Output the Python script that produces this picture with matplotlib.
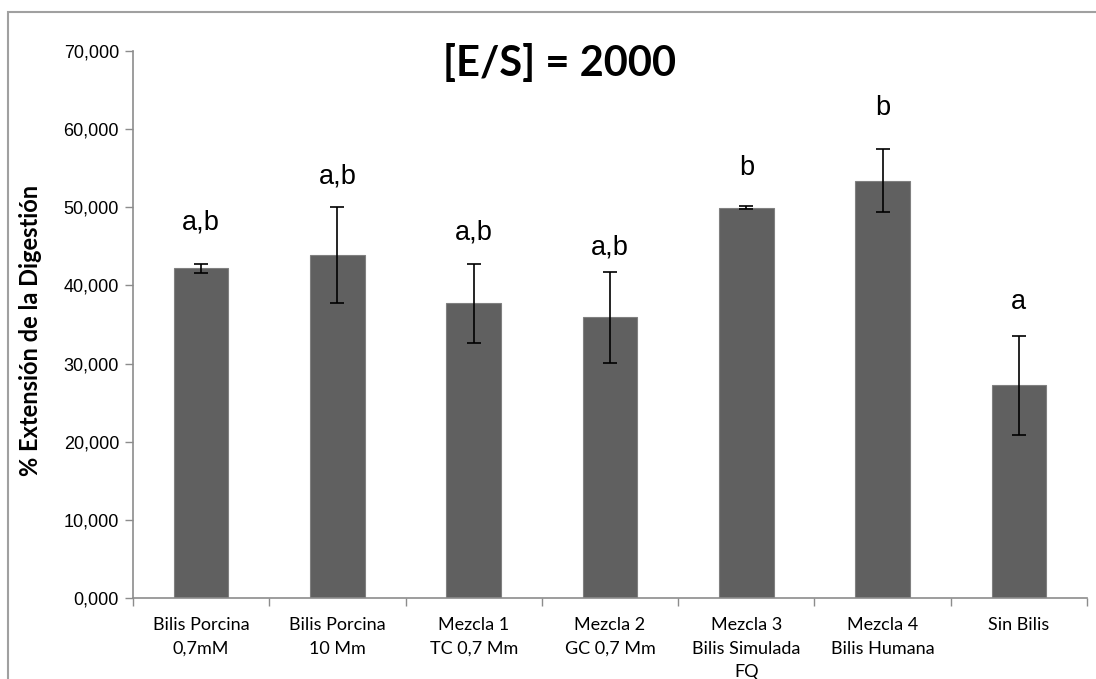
import numpy as np
import matplotlib
matplotlib.use("Agg")
import matplotlib.pyplot as plt
from matplotlib.patches import Rectangle
from matplotlib.ticker import FuncFormatter

# data
categories = ["Bilis Porcina\n0,7mM", "Bilis Porcina\n10 Mm", "Mezcla 1\nTC 0,7 Mm",
              "Mezcla 2\nGC 0,7 Mm", "Mezcla 3\nBilis Simulada\nFQ", "Mezcla 4\nBilis Humana",
              "Sin Bilis"]
means = [42.2, 43.9, 37.7, 35.9, 49.95, 53.4, 27.2]
errors = [0.55, 6.2, 5.05, 5.85, 0.2, 4.0, 6.3]
letters = ["a,b", "a,b", "a,b", "a,b", "b", "b", "a"]
letter_y = [48.0, 53.9, 46.8, 44.9, 55.0, 62.7, 37.9]

grey_axis = "#8c8c8c"

fig = plt.figure(figsize=(10.96, 6.79), dpi=100)
ax = fig.add_axes([133/1096, 1 - 598/679, (1087 - 133)/1096, (598 - 51)/679])

x = np.arange(len(categories))
ax.bar(x, means, width=0.4, color="#606060", edgecolor="#808080", linewidth=0.8, zorder=2)
ax.errorbar(x, means, yerr=errors, fmt="none", ecolor="black", elinewidth=1.2,
            capsize=5, capthick=1.2, zorder=3)

for xi, lab, ly in zip(x, letters, letter_y):
    ax.text(xi, ly, lab, ha="center", va="center", fontsize=19.5, family="Liberation Sans")

ax.set_xlim(-0.5, len(categories) - 0.5)
ax.set_ylim(0, 70)
ax.set_yticks(np.arange(0, 71, 10))
ax.yaxis.set_major_formatter(FuncFormatter(lambda v, p: "%d,000" % v))
for t in ax.get_yticklabels():
    t.set_family("Liberation Sans")
    t.set_fontsize(13)

ax.set_xticks(np.arange(-0.5, len(categories) + 0.5, 1))
ax.set_xticklabels([])
ax.set_xticks(x, minor=True)
ax.set_xticklabels(categories, minor=True, family="Lato", fontsize=13, linespacing=1.55)
ax.tick_params(axis="x", which="minor", length=0, pad=14)
ax.tick_params(axis="x", which="major", length=6, color=grey_axis, width=1)
ax.tick_params(axis="y", length=6, color=grey_axis, width=1, pad=4)

for s in ["top", "right"]:
    ax.spines[s].set_visible(False)
for s in ["left", "bottom"]:
    ax.spines[s].set_color(grey_axis)
    ax.spines[s].set_linewidth(1.2)

ax.set_ylabel("% Extensión de la Digestión", family="Lato", fontweight="bold", fontsize=17)
ax.yaxis.set_label_coords(42/1096, 1 - 330/679, transform=fig.transFigure)

fig.text(560/1096, 1 - 64/679, "[E/S] = 2000", ha="center", va="center",
         fontsize=30, fontweight="bold", family="Lato")

fig.patches.append(Rectangle((8/1096, -0.1), 1.2, 1 - 12/679 + 0.1, transform=fig.transFigure,
                             fill=False, edgecolor="#a0a0a0", linewidth=1.5))

fig.savefig("out.png", dpi=100)
